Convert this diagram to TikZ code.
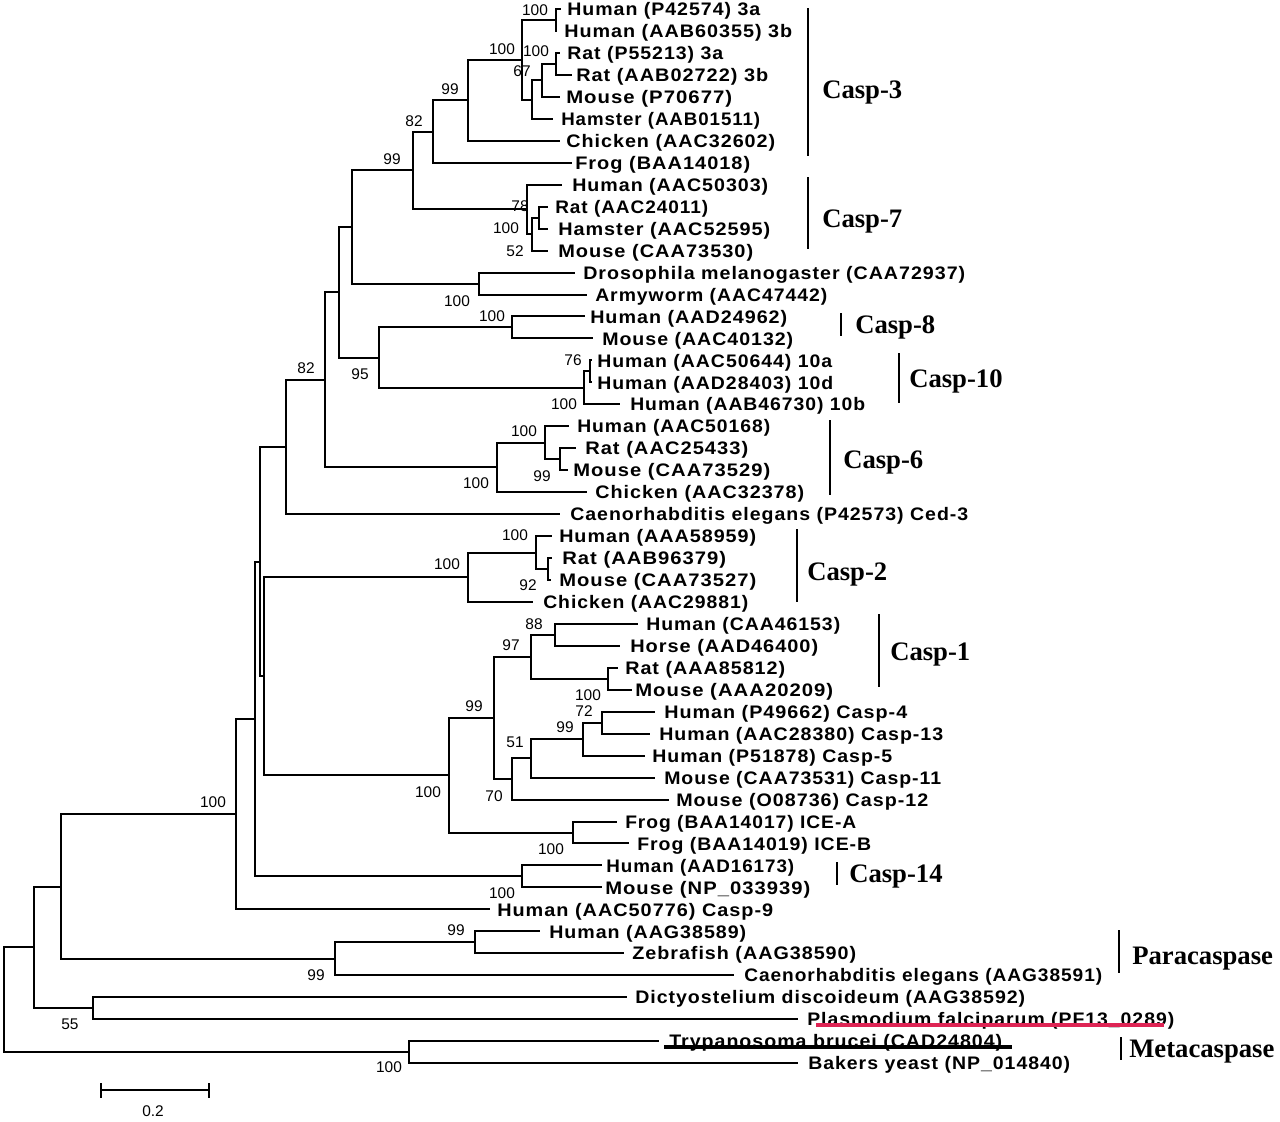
\documentclass[tikz,border=0pt]{standalone}
\usepackage{fontspec}
\usepackage{graphicx}
\newfontfamily\leaffont{Liberation Sans}[LetterSpace=5.0]
\newfontfamily\numfont{Liberation Sans}
\newfontfamily\cladefont{Liberation Serif}
\newlength\pxu \setlength\pxu{0.75pt}
\definecolor{plasred}{RGB}{222,36,84}
% name, y, tip x, text start x, text width, text
\newcommand\leafnode[6]{\coordinate (#1) at (#3,#2);
  \node[leaftext] (#1t) at (#4,#2+6.7) {\resizebox{#5\pxu}{\height}{#6}};}
\newcommand\bsv[4]{\node[bsnum] (#1) at (#2,#3) {#4};}
\begin{document}
\begin{tikzpicture}[x=0.75pt,y=-0.75pt,
  br/.style={line width=1.5pt},
  bar/.style={line width=1.5pt},
  leaftext/.style={anchor=base west, inner sep=0pt, font=\leaffont\bfseries\fontsize{13.6}{16}\selectfont},
  bsnum/.style={inner sep=0pt, font=\numfont\fontsize{11.6}{12}\selectfont},
  cladelbl/.style={anchor=base west, inner sep=0pt, font=\cladefont\bfseries\fontsize{20}{22}\selectfont}]
\fill[white] (0,0) rectangle (1280,1121);
\useasboundingbox (0,0) rectangle (1280,1121);

% ---------- leaves ----------
\leafnode{L1}{9}{561}{567}{193}{Human (P42574) 3a}
\leafnode{L2}{31}{557}{564}{228}{Human (AAB60355) 3b}
\leafnode{L3}{52.9}{560}{567}{156}{Rat (P55213) 3a}
\leafnode{L4}{74.9}{572}{576}{192}{Rat (AAB02722) 3b}
\leafnode{L5}{96.8}{560}{566}{166}{Mouse (P70677)}
\leafnode{L6}{118.8}{553}{561}{199}{Hamster (AAB01511)}
\leafnode{L7}{140.7}{560}{566}{209}{Chicken (AAC32602)}
\leafnode{L8}{162.7}{572}{575}{175}{Frog (BAA14018)}
\leafnode{L9}{184.7}{562}{572}{196}{Human (AAC50303)}
\leafnode{L10}{206.6}{548}{555}{153}{Rat (AAC24011)}
\leafnode{L11}{228.6}{548}{558}{212}{Hamster (AAC52595)}
\leafnode{L12}{250.5}{548}{558}{195}{Mouse (CAA73530)}
\leafnode{L13}{272.5}{575}{583}{382}{Drosophila melanogaster (CAA72937)}
\leafnode{L14}{294.5}{587}{595}{232}{Armyworm (AAC47442)}
\leafnode{L15}{316.4}{585}{590}{197}{Human (AAD24962)}
\leafnode{L16}{338.4}{593}{602}{191}{Mouse (AAC40132)}
\leafnode{L17}{360.3}{592}{597}{235}{Human (AAC50644) 10a}
\leafnode{L18}{382.3}{592}{597}{236}{Human (AAD28403) 10d}
\leafnode{L19}{404.2}{620}{630}{235}{Human (AAB46730) 10b}
\leafnode{L20}{426.2}{569}{577}{193}{Human (AAC50168)}
\leafnode{L21}{448.2}{576}{585}{163}{Rat (AAC25433)}
\leafnode{L22}{470.1}{568}{573}{197}{Mouse (CAA73529)}
\leafnode{L23}{492.1}{587}{595}{209}{Chicken (AAC32378)}
\leafnode{L24}{514}{560}{570}{398}{Caenorhabditis elegans (P42573) Ced-3}
\leafnode{L25}{536}{552}{559}{197}{Human (AAA58959)}
\leafnode{L26}{558}{552}{562}{164}{Rat (AAB96379)}
\leafnode{L27}{579.9}{551}{559}{197}{Mouse (CAA73527)}
\leafnode{L28}{601.9}{533}{543}{205}{Chicken (AAC29881)}
\leafnode{L29}{623.8}{638}{646}{194}{Human (CAA46153)}
\leafnode{L30}{645.8}{620}{630}{188}{Horse (AAD46400)}
\leafnode{L31}{667.8}{618}{625}{160}{Rat (AAA85812)}
\leafnode{L32}{689.7}{632}{635}{198}{Mouse (AAA20209)}
\leafnode{L33}{711.7}{655}{664}{243}{Human (P49662) Casp-4}
\leafnode{L34}{733.6}{650}{659}{284}{Human (AAC28380) Casp-13}
\leafnode{L35}{755.6}{645}{652}{240}{Human (P51878) Casp-5}
\leafnode{L36}{777.6}{655}{664}{277}{Mouse (CAA73531) Casp-11}
\leafnode{L37}{799.5}{669}{676}{252}{Mouse (O08736) Casp-12}
\leafnode{L38}{821.5}{617}{625}{231}{Frog (BAA14017) ICE-A}
\leafnode{L39}{843.4}{629}{637}{234}{Frog (BAA14019) ICE-B}
\leafnode{L40}{865.4}{602}{606}{188}{Human (AAD16173)}
\leafnode{L41}{887.3}{602}{605}{205}{Mouse (NP\_033939)}
\leafnode{L42}{909.3}{490}{497}{276}{Human (AAC50776) Casp-9}
\leafnode{L43}{931.3}{540}{549}{197}{Human (AAG38589)}
\leafnode{L44}{953.2}{624}{632}{224}{Zebrafish (AAG38590)}
\leafnode{L45}{975.2}{734}{744}{358}{Caenorhabditis elegans (AAG38591)}
\leafnode{L46}{997.1}{627}{635}{390}{Dictyostelium discoideum (AAG38592)}
\leafnode{L47}{1019.1}{798}{807}{367}{Plasmodium falciparum (PF13\_0289)}
\leafnode{L48}{1041.1}{659}{669}{333}{Trypanosoma brucei (CAD24804)}
\leafnode{L49}{1063}{798}{808}{262}{Bakers yeast (NP\_014840)}

% ---------- internal nodes ----------
\coordinate (n3a) at (556,20);
\coordinate (nRat3) at (556,63.9);
\coordinate (nRM3) at (542,80.4);
\coordinate (nRMH3) at (532,99.6);
\coordinate (nC3a) at (522,59.8);
\coordinate (nC3b) at (468,100.3);
\coordinate (nC3) at (433,131.5);
\coordinate (nRH7) at (539,217.6);
\coordinate (nM7) at (532,234);
\coordinate (nC7) at (527,209.4);
\coordinate (n37) at (413,170.4);
\coordinate (nDA) at (479,283.5);
\coordinate (n37D) at (352,227);
\coordinate (nC8) at (512,327.4);
\coordinate (n10ad) at (590,371.3);
\coordinate (nC10) at (584,387.8);
\coordinate (n810) at (379,357.6);
\coordinate (nA) at (339,292.3);
\coordinate (nRM6) at (560,459.2);
\coordinate (nH6) at (545,442.7);
\coordinate (nC6) at (497,467.4);
\coordinate (nB) at (325,379.9);
\coordinate (nCed) at (286,447);
\coordinate (nRM2) at (548,569);
\coordinate (nH2) at (536,552.5);
\coordinate (nC2) at (468,577.2);
\coordinate (nHH1) at (555,634.8);
\coordinate (nRM1) at (608,678.8);
\coordinate (nC1) at (531,656.8);
\coordinate (n413) at (602,722.7);
\coordinate (n4135) at (583,739.1);
\coordinate (n11) at (531,758.4);
\coordinate (n12) at (512,779);
\coordinate (nICE) at (494,717.9);
\coordinate (nFrog) at (573,832.5);
\coordinate (nICEF) at (449,775.2);
\coordinate (nC21) at (264,676.2);
\coordinate (nCedC) at (260,561.6);
\coordinate (nC14) at (522,876.4);
\coordinate (n14) at (255,719);
\coordinate (nC9) at (236,814.2);
\coordinate (nPa1) at (475,942.3);
\coordinate (nPa) at (335,958.7);
\coordinate (nCP) at (61,886.5);
\coordinate (nDP) at (93,1008.1);
\coordinate (nCPD) at (34,947.3);
\coordinate (nMeta) at (409,1052);
\coordinate (root) at (4,999.7);

% ---------- branches ----------
\draw[br] (root) |- (nCPD) (root) |- (nMeta);
\draw[br] (nCPD) |- (nCP) (nCPD) |- (nDP);
\draw[br] (nCP) |- (nC9) (nCP) |- (nPa);
\draw[br] (nDP) |- (L46) (nDP) |- (L47);
\draw[br] (nMeta) |- (L48) (nMeta) |- (L49);
\draw[br] (nPa) |- (nPa1) (nPa) |- (L45);
\draw[br] (nPa1) |- (L43) (nPa1) |- (L44);
\draw[br] (nC9) |- (n14) (nC9) |- (L42);
\draw[br] (n14) |- (nCedC) (n14) |- (nC14);
\draw[br] (nC14) |- (L40) (nC14) |- (L41);
\draw[br] (nCedC) |- (nCed) (nCedC) |- (nC21);
\draw[br] (nC21) |- (nC2) (nC21) |- (nICEF);
\draw[br] (nICEF) |- (nICE) (nICEF) |- (nFrog);
\draw[br] (nFrog) |- (L38) (nFrog) |- (L39);
\draw[br] (nICE) |- (nC1) (nICE) |- (n12);
\draw[br] (n12) |- (n11) (n12) |- (L37);
\draw[br] (n11) |- (n4135) (n11) |- (L36);
\draw[br] (n4135) |- (n413) (n4135) |- (L35);
\draw[br] (n413) |- (L33) (n413) |- (L34);
\draw[br] (nC1) |- (nHH1) (nC1) |- (nRM1);
\draw[br] (nHH1) |- (L29) (nHH1) |- (L30);
\draw[br] (nRM1) |- (L31) (nRM1) |- (L32);
\draw[br] (nC2) |- (nH2) (nC2) |- (L28);
\draw[br] (nH2) |- (L25) (nH2) |- (nRM2);
\draw[br] (nRM2) |- (L26) (nRM2) |- (L27);
\draw[br] (nCed) |- (nB) (nCed) |- (L24);
\draw[br] (nB) |- (nA) (nB) |- (nC6);
\draw[br] (nC6) |- (nH6) (nC6) |- (L23);
\draw[br] (nH6) |- (L20) (nH6) |- (nRM6);
\draw[br] (nRM6) |- (L21) (nRM6) |- (L22);
\draw[br] (nA) |- (n37D) (nA) |- (n810);
\draw[br] (n810) |- (nC8) (n810) |- (nC10);
\draw[br] (nC10) |- (n10ad) (nC10) |- (L19);
\draw[br] (n10ad) |- (L17) (n10ad) |- (L18);
\draw[br] (nC8) |- (L15) (nC8) |- (L16);
\draw[br] (n37D) |- (n37) (n37D) |- (nDA);
\draw[br] (nDA) |- (L13) (nDA) |- (L14);
\draw[br] (n37) |- (nC3) (n37) |- (nC7);
\draw[br] (nC7) |- (L9) (nC7) |- (nM7);
\draw[br] (nM7) |- (nRH7) (nM7) |- (L12);
\draw[br] (nRH7) |- (L10) (nRH7) |- (L11);
\draw[br] (nC3) |- (nC3b) (nC3) |- (L8);
\draw[br] (nC3b) |- (nC3a) (nC3b) |- (L7);
\draw[br] (nC3a) |- (n3a) (nC3a) |- (nRMH3);
\draw[br] (nRMH3) |- (nRM3) (nRMH3) |- (L6);
\draw[br] (nRM3) |- (nRat3) (nRM3) |- (L5);
\draw[br] (nRat3) |- (L3) (nRat3) |- (L4);
\draw[br] (n3a) |- (L1) (n3a) |- (L2);

% ---------- bootstrap values ----------
\bsv{b01}{535}{10}{100}
\bsv{b02}{502}{49}{100}
\bsv{b03}{536}{51}{100}
\bsv{b04}{522}{71}{67}
\bsv{b05}{450}{89}{99}
\bsv{b06}{414}{121}{82}
\bsv{b07}{392}{159}{99}
\bsv{b08}{520}{206}{78}
\bsv{b09}{506}{228}{100}
\bsv{b10}{515}{251}{52}
\bsv{b11}{457}{301}{100}
\bsv{b12}{492}{316}{100}
\bsv{b13}{573}{360}{76}
\bsv{b14}{360}{374}{95}
\bsv{b15}{564}{404}{100}
\bsv{b16}{306}{368}{82}
\bsv{b17}{524}{431}{100}
\bsv{b18}{542}{476}{99}
\bsv{b19}{476}{483}{100}
\bsv{b20}{515}{535}{100}
\bsv{b21}{447}{564}{100}
\bsv{b22}{528}{585}{92}
\bsv{b23}{534}{624}{88}
\bsv{b24}{511}{645}{97}
\bsv{b25}{588}{695}{100}
\bsv{b26}{584}{711}{72}
\bsv{b27}{474}{706}{99}
\bsv{b28}{565}{727}{99}
\bsv{b29}{515}{742}{51}
\bsv{b30}{428}{792}{100}
\bsv{b31}{494}{796}{70}
\bsv{b32}{213}{802}{100}
\bsv{b33}{551}{849}{100}
\bsv{b34}{502}{893}{100}
\bsv{b35}{456}{930}{99}
\bsv{b36}{316}{975}{99}
\bsv{b37}{70}{1024}{55}
\bsv{b38}{389}{1067}{100}

% ---------- clade bars ----------
\coordinate (c3a) at (808,8);    \coordinate (c3b) at (808,156);
\coordinate (c7a) at (808,177);  \coordinate (c7b) at (808,249);
\coordinate (c8a) at (841,313);  \coordinate (c8b) at (841,336);
\coordinate (c10a) at (899,353); \coordinate (c10b) at (899,403);
\coordinate (c6a) at (830,420);  \coordinate (c6b) at (830,495);
\coordinate (c2a) at (797,529);  \coordinate (c2b) at (797,602);
\coordinate (c1a) at (879,614);  \coordinate (c1b) at (879,687);
\coordinate (c14a) at (837,862); \coordinate (c14b) at (837,885);
\coordinate (cpa) at (1119,930); \coordinate (cpb) at (1119,973);
\coordinate (cma) at (1121,1037);\coordinate (cmb) at (1121,1060);
\draw[bar] (c3a) -- (c3b) (c7a) -- (c7b) (c8a) -- (c8b) (c10a) -- (c10b)
  (c6a) -- (c6b) (c2a) -- (c2b) (c1a) -- (c1b) (c14a) -- (c14b)
  (cpa) -- (cpb) (cma) -- (cmb);
\node[cladelbl] (k3) at (822,98) {Casp-3};
\node[cladelbl] (k7) at (822,227) {Casp-7};
\node[cladelbl] (k8) at (855,333) {Casp-8};
\node[cladelbl] (k10) at (909,387) {Casp-10};
\node[cladelbl] (k6) at (843,468) {Casp-6};
\node[cladelbl] (k2) at (807,580) {Casp-2};
\node[cladelbl] (k1) at (890,660) {Casp-1};
\node[cladelbl] (k14) at (849,882) {Casp-14};
\node[cladelbl] (kp) at (1132,964) {Paracaspase};
\node[cladelbl] (km) at (1129,1057) {Metacaspase};

% ---------- underlines ----------
\coordinate (r1) at (816,1025); \coordinate (r2) at (1164,1025);
\draw[line width=3.4pt, plasred] (r1) -- (r2);
\coordinate (u1) at (664,1047); \coordinate (u2) at (1012,1047);
\draw[line width=3.4pt, black] (u1) -- (u2);

% ---------- scale bar ----------
\coordinate (s1) at (101,1090); \coordinate (s2) at (209,1090);
\coordinate (s1a) at (101,1083); \coordinate (s1b) at (101,1098);
\coordinate (s2a) at (209,1083); \coordinate (s2b) at (209,1098);
\draw[br] (s1) -- (s2) (s1a) -- (s1b) (s2a) -- (s2b);
\node[bsnum] (sl) at (153,1111) {0.2};
\end{tikzpicture}
\end{document}
